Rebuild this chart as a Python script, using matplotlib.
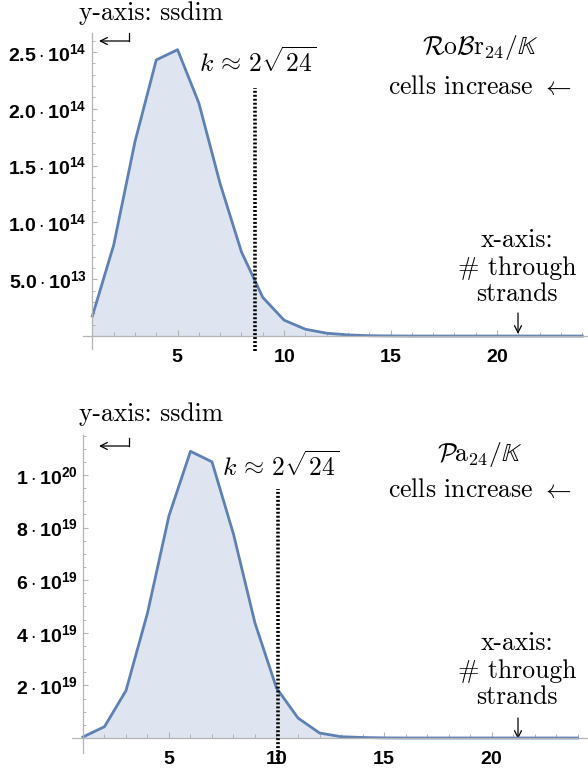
import matplotlib
matplotlib.use('Agg')
import matplotlib.pyplot as plt
from matplotlib.lines import Line2D

plt.rcParams['mathtext.fontset'] = 'custom'
plt.rcParams['mathtext.rm'] = 'Liberation Sans:bold'
plt.rcParams['mathtext.bf'] = 'Liberation Sans:bold'
plt.rcParams['mathtext.it'] = 'Liberation Sans:bold'

# data: ssdim per number of through strands
strands = list(range(1, 25))
robr = [1.76e13, 8.0e13, 1.71e14, 2.43e14, 2.52e14, 2.05e14, 1.34e14, 7.4e13,
        3.4e13, 1.4e13, 6e12, 2.5e12, 1e12, 3e11, 1e11, 0, 0, 0, 0, 0, 0, 0, 0, 0]
pa = [4e17, 4.3e18, 1.8e19, 4.75e19, 8.45e19, 1.09e20, 1.05e20, 7.75e19,
      4.37e19, 1.9e19, 7.6e18, 1.9e18, 5e17, 2e17, 5e16, 0, 0, 0, 0, 0, 0, 0, 0, 0]

robr_yticks = [5e13, 1e14, 1.5e14, 2e14, 2.5e14]
robr_ylabels = [r'$\mathbf{5.0\cdot 10^{13}}$', r'$\mathbf{1.0\cdot 10^{14}}$',
                r'$\mathbf{1.5\cdot 10^{14}}$', r'$\mathbf{2.0\cdot 10^{14}}$',
                r'$\mathbf{2.5\cdot 10^{14}}$']
pa_yticks = [2e19, 4e19, 6e19, 8e19, 1e20]
pa_ylabels = [r'$\mathbf{2\cdot 10^{19}}$', r'$\mathbf{4\cdot 10^{19}}$',
              r'$\mathbf{6\cdot 10^{19}}$', r'$\mathbf{8\cdot 10^{19}}$',
              r'$\mathbf{1\cdot 10^{20}}$']
xticks = [5, 10, 15, 20]
xlabels = [r'$\mathbf{5}$', r'$\mathbf{10}$', r'$\mathbf{15}$', r'$\mathbf{20}$']

W, H = 588, 768
fig = plt.figure(figsize=(W / 100, H / 100), dpi=100)

blue = '#5E81B5'
fill = '#DEE5F0'
gray = '#B4B4B4'


def px_axes(l, t, r, b):
    return fig.add_axes([l / W, 1 - b / H, (r - l) / W, (b - t) / H])


def setup(ax, xs, ys, xlim, ylim, yt, yl, ymin_step, kline, kspan):
    ax.fill_between(xs, ys, 0, color=fill, lw=0)
    ax.plot(xs, ys, color=blue, lw=2.0, solid_joinstyle='round')
    ax.set_xlim(*xlim)
    ax.set_ylim(*ylim)
    for s in ['top', 'right']:
        ax.spines[s].set_visible(False)
    ax.spines['left'].set_position(('data', 1))
    ax.spines['bottom'].set_position(('data', 0))
    for s in ['left', 'bottom']:
        ax.spines[s].set_color(gray)
        ax.spines[s].set_linewidth(0.9)
    ax.set_xticks(xticks, xlabels, fontsize=14)
    ax.set_xticks([i for i in range(1, 25) if i % 5], minor=True)
    ax.set_yticks(yt, yl, fontsize=14)
    mins = []
    v = ymin_step
    while v < ylim[1]:
        mins.append(v)
        v += ymin_step
    ax.set_yticks(mins, minor=True)
    ax.tick_params(axis='x', which='major', direction='in', length=4.5, width=0.8,
                   color=gray, pad=8)
    ax.tick_params(axis='x', which='minor', direction='in', length=3, width=0.7,
                   color=gray)
    ax.tick_params(axis='y', which='major', direction='in', length=3.5, width=0.8,
                   color=gray, pad=4)
    ax.tick_params(axis='y', which='minor', direction='in', length=2.2, width=0.7,
                   color=gray)
    ax.patch.set_alpha(0)
    ax.axvline(kline, ymin=kspan[0], ymax=kspan[1], color='black', lw=2.6,
               ls=(0, (0.55, 0.55)), clip_on=False, zorder=5)


# top: RoBr_24
ax1 = px_axes(83, 33, 588, 349)
setup(ax1, strands, robr, (0.56, 24.27), (-1.14e13, 2.667e14),
      robr_yticks, robr_ylabels, 1e13, 8.64, (-0.005, (349 - 88) / 316))

# bottom: Pa_24
ax2 = px_axes(72, 435, 587, 753)
setup(ax2, strands, pa, (0.49, 24.44), (-5.7e18, 1.152e20),
      pa_yticks, pa_ylabels, 5e18, 10.05, (-0.035, (753 - 489) / 318))


def ftext(x, y, s, size=18.5):
    fig.text(x / W, 1 - y / H, s, ha='center', va='center', fontsize=size,
             family='cmr10', math_fontfamily='cm')


def arrow(x0, y0, x1, y1):
    ax1.annotate('', xy=(x1, H - y1), xytext=(x0, H - y0), xycoords='figure pixels',
                 textcoords='figure pixels',
                 arrowprops=dict(arrowstyle='->,head_length=0.5,head_width=0.25',
                                 lw=0.9, color='black', shrinkA=0, shrinkB=0))


def hook_arrow(y):
    fig.add_artist(Line2D([129 / W, 129 / W], [1 - (y - 8) / H, 1 - y / H],
                          color='black', lw=0.9))
    arrow(129.4, y, 99, y)


for dy, title, kx, ky in [(0, r'$\mathcal{R}\mathrm{o}\mathcal{B}\mathrm{r}_{24}/\mathbb{K}$', 258, 62),
                          (403, r'$\mathcal{P}\mathrm{a}_{24}/\mathbb{K}$', 281, 466)]:
    ftext(151, 13 + dy * 0.995, 'y-axis: ssdim')
    ftext(480, 47 + dy * 1.01, title)
    ftext(480, 87 + dy, r'cells increase $\leftarrow$')
    ftext(kx, ky, r'$k\,\approx\,2\sqrt{24}$')
    ftext(517, 240 + dy, 'x-axis:')
    ftext(517, 268 + dy, '# through')
    ftext(517, 294 + dy, 'strands')
    off = 2 if dy else 0
    arrow(518, 313 + dy + off, 518, 334 + dy + off)
    hook_arrow(41 + dy + off)

fig.savefig('out.png', dpi=100)
